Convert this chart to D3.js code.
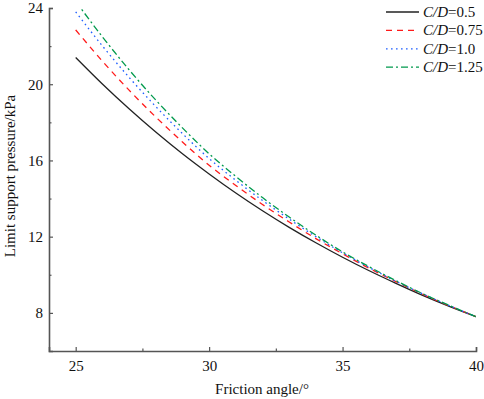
<!DOCTYPE html>
<html><head><meta charset="utf-8">
<script src="https://cdn.jsdelivr.net/npm/d3@7"></script>
<style>body{margin:0;background:#fff}svg{display:block}</style>
</head><body>
<svg id="c" width="484" height="399"></svg>
<script>
const angles = [25,26,27,28,29,30,31,32,33,34,35,36,37,38,39,40];
const cd05  = [21.40,20.01,18.71,17.49,16.35,15.29,14.29,13.36,12.49,11.68,10.92,10.21,9.55,8.92,8.34,7.80];
const cd075 = [22.85,21.21,19.69,18.28,16.97,15.75,14.69,13.69,12.77,11.90,11.10,10.34,9.64,8.98,8.37,7.80];
const cd10  = [23.80,22.01,20.36,18.83,17.41,16.10,14.96,13.90,12.92,12.00,11.15,10.38,9.66,9.00,8.38,7.80];
const cd125 = [24.35,22.49,20.76,19.17,17.71,16.35,15.16,14.05,13.03,12.08,11.20,10.42,9.69,9.01,8.39,7.80];
const seriesNames = ["0.5","0.75","1.0","1.25"];
const xTicks = [25,30,35,40];
const yTicks = [8,12,16,20,24];

const series = [
  {name:seriesNames[0], vals:cd05,  color:"#222222", dash:null},
  {name:seriesNames[1], vals:cd075, color:"#ff1a1a", dash:"6,5"},
  {name:seriesNames[2], vals:cd10,  color:"#1f5fff", dash:"1.6,3.4"},
  {name:seriesNames[3], vals:cd125, color:"#00994d", dash:"7,3,2,3"}
];

const svg = d3.select("#c");
const L=49, R=476, T=8, B=351;
const x = d3.scaleLinear().domain([24,40]).range([L,R]);
const y = d3.scaleLinear().domain([6,24]).range([B,T]);
const font = "'Liberation Serif','Times New Roman',serif";

svg.append("clipPath").attr("id","clip").append("rect")
  .attr("x",L).attr("y",T).attr("width",R-L).attr("height",B-T);

const line = d3.line().x((d,i)=>x(angles[i])).y(d=>y(d)).curve(d3.curveMonotoneX);
const g = svg.append("g").attr("clip-path","url(#clip)");
series.forEach(s=>{
  g.append("path").attr("d",line(s.vals)).attr("fill","none")
    .attr("stroke",s.color).attr("stroke-width",1.3)
    .attr("stroke-dasharray",s.dash);
});

// axes
const axColor="#555";
const xAxis = svg.append("g").attr("transform",`translate(0,${B})`)
  .call(d3.axisBottom(x).tickValues(xTicks).tickSize(-4).tickPadding(9).tickFormat(d3.format("d")));
const xMinor = svg.append("g").attr("transform",`translate(0,${B})`)
  .call(d3.axisBottom(x).tickValues([27.5,32.5,37.5]).tickSize(-2.5).tickFormat(""));
const yAxis = svg.append("g").attr("transform",`translate(${L},0)`)
  .call(d3.axisLeft(y).tickValues(yTicks).tickSize(-4).tickPadding(6).tickFormat(d3.format("d")));
const yMinor = svg.append("g").attr("transform",`translate(${L},0)`)
  .call(d3.axisLeft(y).tickValues([10,14,18,22]).tickSize(-2.5).tickFormat(""));
[xAxis,xMinor,yAxis,yMinor].forEach(a=>{
  a.select(".domain").attr("stroke",axColor).attr("stroke-width",1.6);
  a.selectAll(".tick line").attr("stroke",axColor).attr("stroke-width",1.2);
  a.selectAll("text").attr("font-family",font).attr("font-size",15).attr("fill","#111");
});
xMinor.select(".domain").remove(); yMinor.select(".domain").remove();

svg.append("text").attr("x",262).attr("y",394).attr("text-anchor","middle")
  .attr("font-family",font).attr("font-size",15).attr("fill","#111").text("Friction angle/°");
svg.append("text").attr("transform","translate(15,176) rotate(-90)").attr("text-anchor","middle")
  .attr("font-family",font).attr("font-size",15).attr("fill","#111").text("Limit support pressure/kPa");

// legend
const lg = svg.append("g");
series.forEach((s,i)=>{
  const yy = 12 + i*18.4;
  lg.append("line").attr("x1",386).attr("x2",419).attr("y1",yy).attr("y2",yy)
    .attr("stroke",s.color).attr("stroke-width",1.3).attr("stroke-dasharray",s.dash);
  const t = lg.append("text").attr("x",423).attr("y",yy+5)
    .attr("font-family",font).attr("font-size",15).attr("fill","#111");
  t.append("tspan").attr("font-style","italic").text("C/D");
  t.append("tspan").text("="+s.name);
});
</script>
</body></html>
